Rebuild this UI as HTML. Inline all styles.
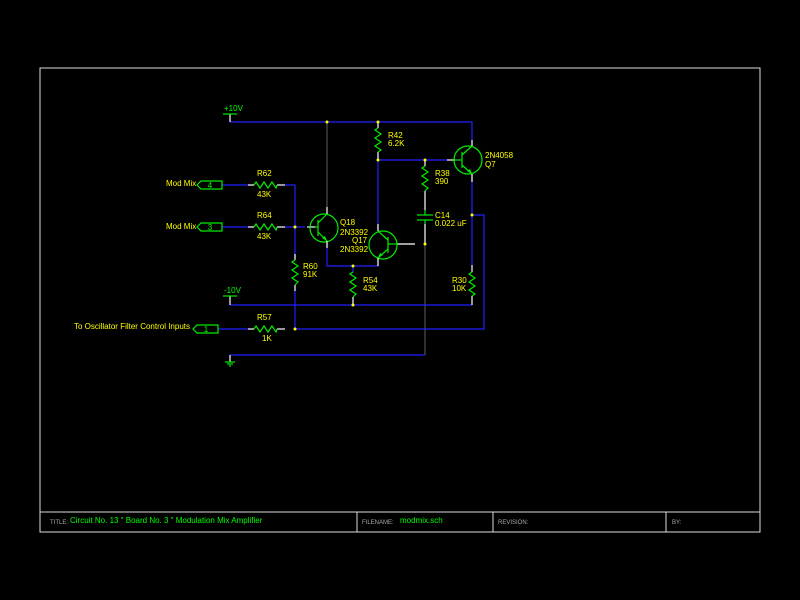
<!DOCTYPE html>
<html><head><meta charset="utf-8"><style>
html,body{margin:0;padding:0;background:#000;}
svg{display:block;font-family:"Liberation Sans",sans-serif;}
.y{fill:#ffff00;font-size:8px;}
.g{fill:#00ff00;font-size:8px;}
</style></head><body>
<svg width="800" height="600" viewBox="0 0 800 600">
<rect width="800" height="600" fill="#000"/>
<rect x="40" y="68" width="720" height="464" fill="none" stroke="#ddd" stroke-width="1"/>
<line x1="40" y1="512" x2="760" y2="512" stroke="#ddd"/>
<line x1="357" y1="512" x2="357" y2="532" stroke="#ddd"/>
<line x1="493" y1="512" x2="493" y2="532" stroke="#ddd"/>
<line x1="666" y1="512" x2="666" y2="532" stroke="#ddd"/>
<text x="50" y="524" fill="#aaa" font-size="6">TITLE:</text>
<text x="70" y="523" class="g">Circuit No. 13 " Board No. 3 " Modulation Mix Amplifier</text>
<text x="362" y="524" fill="#aaa" font-size="6">FILENAME:</text>
<text x="400" y="523" class="g">modmix.sch</text>
<text x="498" y="524" fill="#aaa" font-size="6">REVISION:</text>
<text x="672" y="524" fill="#aaa" font-size="6">BY:</text>

<g fill="none" stroke-width="1.2">
<!-- dim wires -->
<g stroke="#777" stroke-width="0.8">
<line x1="327" y1="122" x2="327" y2="212"/>
<line x1="425" y1="244" x2="425" y2="355"/>
</g>
<g stroke="#2020ff">
<polyline points="230,122 472,122 472,140"/>
<polyline points="378,154 378,230"/>
<polyline points="378,160 447,160"/>
<polyline points="472,178 472,265"/>
<polyline points="472,215 484,215 484,329 295,329"/>
<polyline points="285,185 295,185 295,258"/>
<polyline points="285,227 305,227"/>
<polyline points="295,290 295,329"/>
<polyline points="327,242 327,266 378,266 378,258"/>
<polyline points="230,305 472,305"/>
<polyline points="230,355 425,355"/>
<polyline points="222,185 248,185"/>
<polyline points="222,227 248,227"/>
<polyline points="218,329 248,329"/>
<polyline points="353,266 353,272"/>
</g>
<g stroke="#fff">
<line x1="230" y1="114" x2="230" y2="122"/>
<line x1="230" y1="296" x2="230" y2="305"/>
<line x1="230" y1="355" x2="230" y2="362"/>
<line x1="248" y1="185" x2="254" y2="185"/><line x1="277" y1="185" x2="285" y2="185"/>
<line x1="248" y1="227" x2="254" y2="227"/><line x1="277" y1="227" x2="285" y2="227"/>
<line x1="248" y1="329" x2="254" y2="329"/><line x1="277" y1="329" x2="285" y2="329"/>
<line x1="295" y1="254" x2="295" y2="260"/><line x1="295" y1="285" x2="295" y2="291"/>
<line x1="353" y1="297" x2="353" y2="305"/>
<line x1="378" y1="122" x2="378" y2="128"/><line x1="378" y1="152" x2="378" y2="160"/>
<line x1="425" y1="160" x2="425" y2="166"/><line x1="425" y1="191" x2="425" y2="210"/>
<line x1="425" y1="224" x2="425" y2="244"/>
<line x1="472" y1="265" x2="472" y2="272"/><line x1="472" y1="296" x2="472" y2="305"/>
<line x1="397" y1="244" x2="415" y2="244"/>
<line x1="307" y1="227" x2="315" y2="227"/>
<line x1="447" y1="160" x2="455" y2="160"/>
</g>
<g stroke="#00ee00">
<line x1="223" y1="114" x2="237" y2="114"/>
<line x1="223" y1="296" x2="237" y2="296"/>
<line x1="225" y1="362" x2="235" y2="362"/><line x1="227" y1="364" x2="233" y2="364"/><line x1="229" y1="366" x2="231" y2="366"/>
<!-- resistors horizontal -->
<polyline points="254,185 256,182 260,188 264,182 268,188 272,182 276,188 277,185"/>
<polyline points="254,227 256,224 260,230 264,224 268,230 272,224 276,230 277,227"/>
<polyline points="254,329 256,326 260,332 264,326 268,332 272,326 276,332 277,329"/>
<!-- vertical resistors -->
<polyline points="378,128 375,130 381,134 375,138 381,142 375,146 381,150 378,152"/>
<polyline points="425,166 422,168 428,172 422,176 428,180 422,184 428,188 425,191"/>
<polyline points="295,260 292,262 298,266 292,270 298,274 292,278 298,282 295,285"/>
<polyline points="353,272 350,274 356,278 350,282 356,286 350,290 356,294 353,297"/>
<polyline points="472,272 469,274 475,278 469,282 475,286 469,290 475,294 472,296"/>
<!-- cap -->
<line x1="417" y1="215" x2="433" y2="215"/><line x1="417" y1="220" x2="433" y2="220"/>
<line x1="425" y1="210" x2="425" y2="215"/><line x1="425" y1="220" x2="425" y2="224"/>
<!-- Q18 -->
<circle cx="324" cy="228" r="14"/>
<line x1="318" y1="220" x2="318" y2="236"/><line x1="315" y1="227" x2="318" y2="227"/>
<line x1="318" y1="223" x2="327" y2="214"/><line x1="318" y1="232" x2="327" y2="241"/>
<!-- Q17 -->
<circle cx="383" cy="245" r="14"/>
<line x1="388" y1="237" x2="388" y2="253"/><line x1="388" y1="244" x2="397" y2="244"/>
<line x1="388" y1="240" x2="378" y2="231"/><line x1="388" y1="249" x2="378" y2="258"/>
<!-- Q7 -->
<circle cx="468" cy="160" r="14"/>
<line x1="462" y1="152" x2="462" y2="168"/><line x1="455" y1="160" x2="462" y2="160"/>
<line x1="462" y1="155" x2="472" y2="146"/><line x1="462" y1="165" x2="472" y2="174"/>
<!-- connectors -->
<polygon points="197,185 201,181 222,181 222,189 201,189"/>
<polygon points="197,227 201,223 222,223 222,231 201,231"/>
<polygon points="193,329 197,325 218,325 218,333 197,333"/>
</g>
<g fill="#00ee00">
<polygon points="327,241 322,238 325,236"/>
<polygon points="378,258 380,253 383,255"/>
<polygon points="472,174 467,171 470,169"/>
</g>
<g stroke="#fff"><line x1="327" y1="241" x2="327" y2="248"/><line x1="327" y1="207" x2="327" y2="214"/><line x1="378" y1="224" x2="378" y2="231"/><line x1="378" y1="258" x2="378" y2="266"/><line x1="472" y1="140" x2="472" y2="146"/><line x1="472" y1="174" x2="472" y2="182"/></g>
</g>
<g fill="#ffff00">
<circle cx="327" cy="122" r="1.5"/><circle cx="378" cy="122" r="1.5"/><circle cx="378" cy="160" r="1.5"/>
<circle cx="425" cy="160" r="1.5"/><circle cx="472" cy="215" r="1.5"/><circle cx="425" cy="244" r="1.5"/>
<circle cx="295" cy="227" r="1.5"/><circle cx="353" cy="266" r="1.5"/><circle cx="353" cy="305" r="1.5"/>
<circle cx="295" cy="329" r="1.5"/>
</g>
<text x="224" y="111" class="g" font-size="6">+10V</text>
<text x="224" y="293" class="g" font-size="6">-10V</text>
<text x="210" y="188" class="g" text-anchor="middle">4</text>
<text x="210" y="230" class="g" text-anchor="middle">3</text>
<text x="206" y="332" class="g" text-anchor="middle">1</text>
<g class="y">
<text x="166" y="186">Mod Mix</text>
<text x="166" y="229">Mod Mix</text>
<text x="190" y="329" text-anchor="end">To Oscillator Filter Control Inputs</text>
<text x="257" y="176">R62</text><text x="257" y="197">43K</text>
<text x="257" y="218">R64</text><text x="257" y="239">43K</text>
<text x="257" y="320">R57</text><text x="262" y="341">1K</text>
<text x="303" y="269">R60</text><text x="303" y="277">91K</text>
<text x="363" y="283">R54</text><text x="363" y="291">43K</text>
<text x="388" y="138">R42</text><text x="388" y="146">6.2K</text>
<text x="435" y="176">R38</text><text x="435" y="184">390</text>
<text x="435" y="218">C14</text><text x="435" y="226">0.022 uF</text>
<text x="452" y="283">R30</text><text x="452" y="291">10K</text>
<text x="340" y="225">Q18</text><text x="340" y="235">2N3392</text>
<text x="352" y="243">Q17</text><text x="340" y="252">2N3392</text>
<text x="485" y="158">2N4058</text><text x="485" y="167">Q7</text>
</g>
</svg>
</body></html>
